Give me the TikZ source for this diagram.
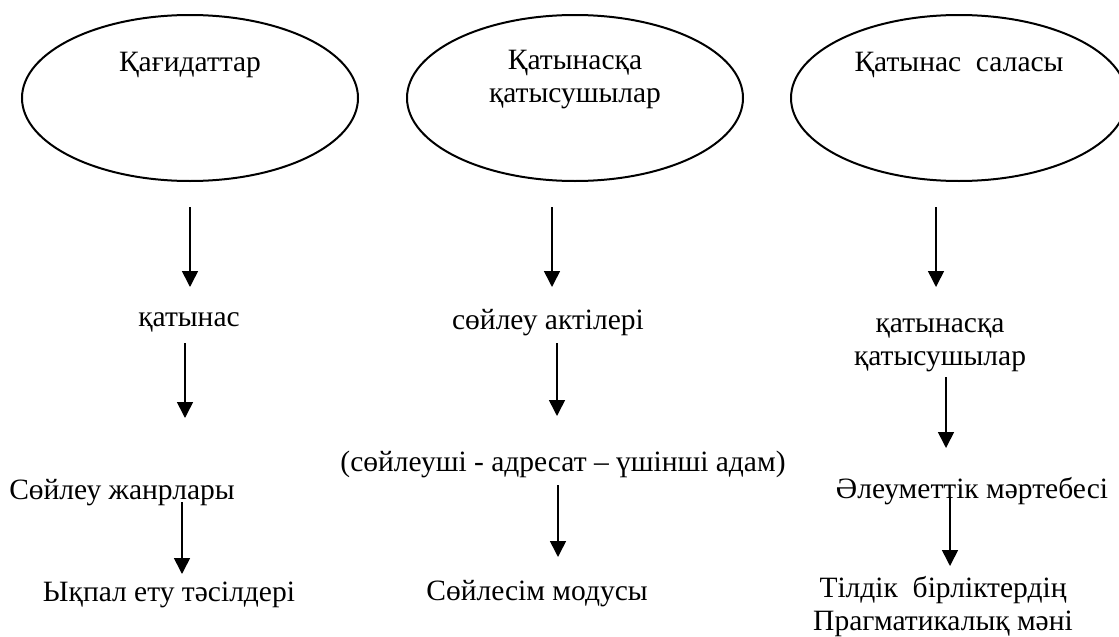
\documentclass[tikz,border=0pt]{standalone}
\usepackage{fontspec}
\setmainfont{Liberation Serif}
\usetikzlibrary{positioning, arrows.meta, shapes.geometric}

\begin{document}
\fontsize{14.75pt}{16.5pt}\selectfont
\begin{tikzpicture}[
    x=0.5pt, y=-0.5pt,
    oval/.style={
        draw,
        ellipse,
        line width=1pt,
        minimum width=168pt,
        minimum height=83pt
    },
    lbl/.style={
        inner sep=0pt,
        anchor=mid,
        align=center,
        font=\fontsize{14.75pt}{16.5pt}\selectfont
    },
    arrow/.style={-{Triangle[length=8pt, width=8pt]}, line width=0.8pt}
]
\useasboundingbox (0,0) rectangle (1119,637);

% ellipses
\node[oval] (principles) at (190,98) {};
\node[oval] (members) at (575,98) {};
\node[oval] (sphere) at (959,98) {};

% multi-line labels sit on their last line
\node[lbl] (principlesT) at (190,65) {Қағидаттар};
\node[lbl] (membersT) at (575,96) {Қатынасқа\\қатысушылар};
\node[lbl] (sphereT) at (959,65) {Қатынас\ \ саласы};

% first column
\node[lbl] (comm) at (189,320) {қатынас};
\node[lbl] (genres) at (122,493) {Сөйлеу жанрлары};
\node[lbl] (impact) at (169,595) {Ықпал ету тәсілдері};

% second column
\node[lbl] (acts) at (548,323) {сөйлеу актілері};
\node[lbl] (roles) at (563,465) {(сөйлеуші - адресат – үшінші адам)};
\node[lbl] (mode) at (537,594) {Сөйлесім модусы};

% third column
\node[lbl] (partic) at (940,359) {қатынасқа\\қатысушылар};
\node[lbl] (status) at (972,492) {Әлеуметтік мәртебесі};
\node[lbl] (units) at (943,624) {Тілдік\ \ бірліктердің\\Прагматикалық мәні};

% arrow columns
\coordinate (a1) at (190,0);
\coordinate (a2) at (185,0);
\coordinate (a3) at (182,0);
\coordinate (b1) at (552,0);
\coordinate (b2) at (557,0);
\coordinate (b3) at (558,0);
\coordinate (c1) at (936,0);
\coordinate (c2) at (946,0);
\coordinate (c3) at (950,0);

\draw[arrow, shorten <=12.5pt, shorten >=16.5pt] (principles.south -| a1) -- (comm.mid -| a1);
\draw[arrow, shorten <=11.5pt, shorten >=37.5pt] (comm.mid -| a2) -- (genres.mid -| a2);
\draw[arrow, shorten <=4.5pt, shorten >=10.5pt] (genres.mid -| a3) -- (impact.mid -| a3);

\draw[arrow, shorten <=12.5pt, shorten >=18pt] (members.south -| b1) -- (acts.mid -| b1);
\draw[arrow, shorten <=10pt, shorten >=24.5pt] (acts.mid -| b2) -- (roles.mid -| b2);
\draw[arrow, shorten <=10pt, shorten >=18.5pt] (roles.mid -| b3) -- (mode.mid -| b3);

\draw[arrow, shorten <=12.5pt, shorten >=36pt] (sphere.south -| c1) -- (partic.mid -| c1);
\draw[arrow, shorten <=9pt, shorten >=22pt] (partic.mid -| c2) -- (status.mid -| c2);
\draw[arrow, shorten <=2.5pt, shorten >=29pt] (status.mid -| c3) -- (units.mid -| c3);

\end{tikzpicture}
\end{document}
